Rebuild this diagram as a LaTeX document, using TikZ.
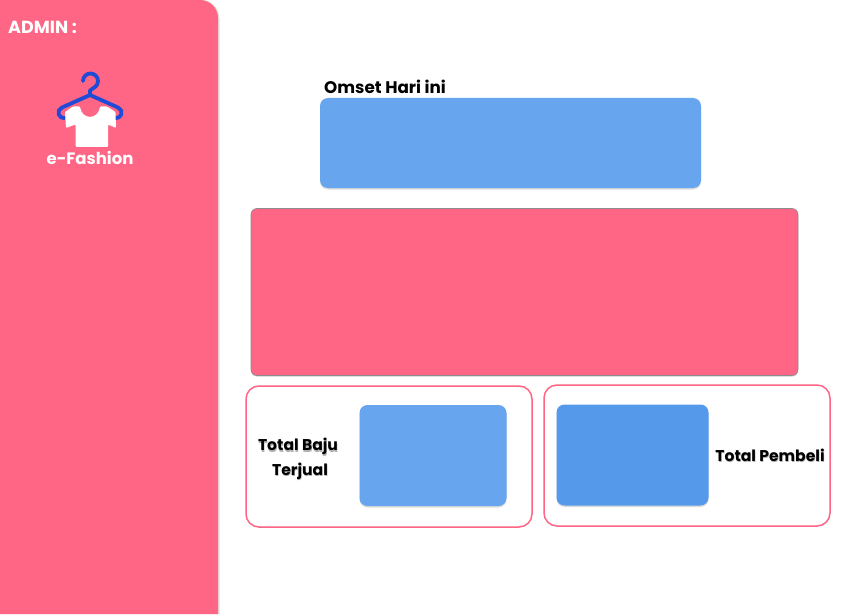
\documentclass[tikz,border=0pt]{standalone}
\usepackage{fontspec}
\setmainfont{Poppins}
\usetikzlibrary{positioning,shadows}
\definecolor{pinkbar}{HTML}{FF6584}
\definecolor{bluebox}{HTML}{67A6EE}
\definecolor{blueboxb}{HTML}{5599EB}
\definecolor{hangerblue}{HTML}{1F4BD6}
\tikzset{
  x=1pt,y=-1pt,
  bx/.style={rectangle,rounded corners=8pt,fill=bluebox,inner sep=0pt,
    drop shadow={shadow xshift=0pt,shadow yshift=-1.5pt,opacity=.14,fill=black}},
  frm/.style={rectangle,rounded corners=13pt,draw=pinkbar,fill=white,line width=1.5pt,inner sep=0pt},
  wt/.style={font=\bfseries\fontsize{16.5}{18}\selectfont,text=white,inner sep=0pt},
  bt/.style={font=\bfseries\fontsize{15.6}{24.5}\selectfont,text=black,inner sep=0pt,align=center},
  tshadow/.style={font=\bfseries\fontsize{15.6}{24.5}\selectfont,text=black!30,inner sep=0pt,align=center},
}
\begin{document}
\begin{tikzpicture}
\useasboundingbox (0,0) rectangle (865,615);
\fill[white] (0,0) rectangle (865,615);
% sidebar
\fill[black!12] (0,0) -- (201.5,0) arc[start angle=-90,end angle=0,radius=18] -- (219.5,614) -- (0,614) -- cycle;
\fill[pinkbar] (0,0) -- (200,0) arc[start angle=-90,end angle=0,radius=18] -- (218,614) -- (0,614) -- cycle;
\node[wt,font=\bfseries\fontsize{17.5}{18}\selectfont,anchor=west] (admin) at (8,27.5) {ADMIN :};
% hanger
\draw[hangerblue,line width=3.8pt,line cap=round,line join=round]
  (83,81) arc[start angle=180,end angle=405,radius=7.5] -- (90,90.5) -- (90,95)
  -- (118,107.5) arc[start angle=-70,end angle=100,radius=5.5]
  (90,95) -- (62,107.5) arc[start angle=250,end angle=80,radius=5.5];
% shirt
\fill[white,rounded corners=1pt] (73,106.5) -- (80,106.5)
  .. controls (82,120) and (98,120) .. (100,106.5) -- (107,106.5) -- (115.5,112) -- (116,128)
  -- (108,124.5) -- (108,147) -- (75.5,147) -- (75.5,124.5) -- (66,128) -- (65,112) -- cycle;
\node[wt] (brand) at (90,157.5) {e-Fashion};
% top box
\node[bx,minimum width=381,minimum height=90] (omset) at (510.5,143) {};
\node[bt,font=\bfseries\fontsize{16.8}{18}\selectfont,anchor=west] (omsetlb) at (324,87) {Omset Hari ini};
% chart box
\node[rectangle,rounded corners=6pt,fill=pinkbar,draw=black!45,line width=.6pt,inner sep=0pt,
  minimum width=547,minimum height=167,
  drop shadow={shadow xshift=0pt,shadow yshift=-1pt,opacity=.2,fill=black}] (chart) at (524.5,292) {};
% left card
\node[frm,minimum width=286,minimum height=141] (cardl) at (389,456.5) {};
\node[bx,minimum width=147,minimum height=101] (boxl) at (433,455.5) {};
\node[tshadow] at (298.5,460.5) {Total Baju\\\hspace*{4pt}Terjual};
\node[bt] (lbl) at (298,459) {Total Baju\\\hspace*{4pt}Terjual};
% right card
\node[frm,minimum width=286,minimum height=141] (cardr) at (687,455.5) {};
\node[bx,fill=blueboxb,minimum width=152,minimum height=101] (boxr) at (632.5,455) {};
\node[tshadow] at (770.5,456.5) {Total Pembeli};
\node[bt] (lbr) at (770,455) {Total Pembeli};
\end{tikzpicture}
\end{document}
